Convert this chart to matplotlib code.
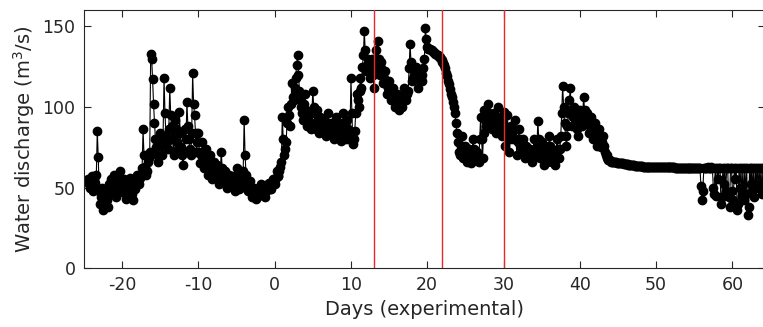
import matplotlib
matplotlib.use('Agg')
import matplotlib.pyplot as plt
import numpy as np

plt.rcParams['axes.unicode_minus'] = False

# water discharge (m3/s), 8 readings per day (every 3 h), row = one day, starting at day -24.5
discharge = [
    55, 52, 50, 54, 57, 51, 48, 53,          # -24.5
    53, 58, 85, 69, 48, 40, 44, 50,          # -23.5
    36, 41, 47, 44, 42, 38, 52, 48,          # -22.5
    55, 50, 46, 53, 58, 52, 44, 49,          # -21.5
    52, 56, 60, 54, 47, 51, 55, 49,          # -20.5
    43, 47, 50, 54, 56, 51, 46, 42,          # -19.5
    54, 50, 49, 53, 58, 55, 52, 56,          # -18.5
    58, 62, 86, 70, 63, 58, 60, 66,          # -17.5
    68, 72, 133, 130, 117, 102, 90, 80,      # -16.5
    75, 70, 66, 78, 84, 76, 70, 82,          # -15.5
    118, 96, 82, 78, 74, 86, 112, 95,        # -14.5
    88, 80, 70, 84, 92, 86, 78, 74,          # -13.5
    97, 84, 75, 70, 64, 72, 86, 80,          # -12.5
    103, 88, 80, 74, 70, 84, 121, 102,       # -11.5
    95, 84, 72, 78, 84, 72, 65, 70,          # -10.5
    78, 70, 62, 68, 74, 64, 58, 66,          # -9.5
    70, 62, 55, 60, 66, 62, 60, 56,          # -8.5
    64, 58, 52, 60, 72, 62, 56, 54,          # -7.5
    60, 55, 50, 54, 58, 52, 53, 57,          # -6.5
    55, 50, 48, 56, 62, 58, 52, 49,          # -5.5
    50, 54, 56, 60, 92, 70, 58, 52,          # -4.5
    48, 52, 54, 50, 44, 47, 50, 46,          # -3.5
    43, 46, 49, 45, 46, 50, 52, 48,          # -2.5
    47, 45, 44, 48, 50, 52, 53, 49,          # -1.5
    49, 52, 55, 53, 52, 56, 60, 57,          # -0.5
    57, 60, 63, 66, 94, 80, 70, 74,          # 0.5
    78, 90, 100, 95, 88, 102, 115, 106,      # 1.5
    104, 112, 118, 126, 132, 120, 110, 104,  # 2.5
    100, 96, 92, 102, 108, 98, 88, 94,       # 3.5
    96, 90, 86, 96, 110, 100, 90, 86,        # 4.5
    98, 92, 84, 88, 94, 90, 88, 85,          # 5.5
    92, 88, 82, 90, 96, 90, 86, 84,          # 6.5
    90, 84, 80, 88, 94, 90, 85, 82,          # 7.5
    88, 82, 79, 90, 96, 88, 84, 80,          # 8.5
    92, 86, 80, 84, 118, 96, 77, 80,         # 9.5
    85, 96, 108, 104, 100, 110, 118, 112,    # 10.5
    125, 132, 147, 135, 122, 126, 130, 124,  # 11.5
    118, 124, 130, 120, 112, 122, 135, 128,  # 12.5
    141, 130, 120, 124, 128, 122, 115, 118,  # 13.5
    122, 114, 108, 112, 116, 110, 104, 108,  # 14.5
    112, 106, 100, 104, 108, 102, 98, 104,   # 15.5
    106, 102, 100, 106, 112, 108, 104, 108,  # 16.5
    110, 124, 139, 128, 116, 118, 120, 122,  # 17.5
    125, 118, 112, 118, 122, 120, 116, 120,  # 18.5
    124, 130, 149, 142, 137, 136, 136, 136,  # 19.5
    135, 135, 134, 134, 133, 133, 132, 132,  # 20.5
    131, 131, 130, 129, 128, 127, 126, 124,  # 21.5
    121, 119, 116, 114, 111, 108, 106, 103,  # 22.5
    100, 96, 90, 84, 78, 72, 70, 76,         # 23.5
    82, 74, 68, 72, 76, 70, 66, 70,          # 24.5
    74, 70, 65, 72, 80, 74, 67, 70,          # 25.5
    72, 68, 66, 80, 94, 80, 68, 84,          # 26.5
    98, 92, 88, 96, 102, 96, 92, 88,         # 27.5
    86, 92, 96, 90, 84, 92, 100, 94,         # 28.5
    90, 86, 82, 90, 97, 88, 76, 84,          # 29.5
    95, 84, 72, 80, 88, 84, 80, 86,          # 30.5
    92, 80, 70, 78, 86, 80, 75, 78,          # 31.5
    80, 74, 68, 72, 76, 74, 72, 70,          # 32.5
    74, 70, 66, 72, 80, 74, 70, 76,          # 33.5
    91, 80, 68, 72, 78, 70, 64, 70,          # 34.5
    76, 70, 66, 74, 82, 76, 70, 66,          # 35.5
    72, 68, 64, 72, 80, 74, 68, 74,          # 36.5
    82, 96, 113, 100, 90, 82, 76, 88,        # 37.5
    96, 104, 112, 98, 88, 94, 100, 96,       # 38.5
    92, 86, 82, 90, 98, 94, 88, 96,          # 39.5
    106, 98, 90, 92, 96, 90, 84, 88,         # 40.5
    94, 86, 80, 84, 90, 82, 76, 82,          # 41.5
    86, 80, 75, 78, 82, 76, 72, 70,          # 42.5
    70, 68, 67, 67, 67, 66, 66, 66,          # 43.5
    66, 66, 66, 65.5, 65.5, 65, 65, 65,      # 44.5
    65, 65, 64.8, 64.8, 64.5, 64.5, 64.4, 64.2,  # 45.5
    64, 64, 64, 64, 63.8, 63.8, 63.6, 63.5,  # 46.5
    63.5, 63.5, 63.4, 63.4, 63.2, 63.2, 63, 63,  # 47.5
    63, 63, 63, 63, 63, 63, 63, 63,          # 48.5
    62.8, 62.8, 62.8, 62.8, 62.8, 62.8, 62.8, 62.8,  # 49.5
    62.6, 62.6, 62.6, 62.6, 62.6, 62.6, 62.6, 62.6,  # 50.5
    62.5, 62.5, 62.5, 62.5, 62.5, 62.5, 62.5, 62.5,  # 51.5
    62.4, 62.4, 62.4, 62.4, 62.4, 62.4, 62.4, 62.4,  # 52.5
    62.3, 62.3, 62.3, 62.3, 62.3, 62.3, 62.3, 62.3,  # 53.5
    62.2, 62.2, 62.2, 62.2, 62.2, 62.2, 62.2, 62.2,  # 54.5
    62, 62, 62, 51, 42, 48, 62, 62,          # 55.5
    62, 62, 63, 62, 62, 62, 63, 62,          # 56.5
    50, 46, 62, 45, 62, 55, 62, 62,          # 57.5
    40, 44, 62, 52, 62, 48, 62, 62,          # 58.5
    44, 38, 62, 62, 48, 42, 62, 55,          # 59.5
    62, 36, 40, 62, 50, 62, 45, 62,          # 60.5
    42, 62, 46, 62, 33, 38, 62, 52,          # 61.5
    62, 48, 62, 44, 62, 52, 62, 50,          # 62.5
    62, 50, 62, 46, 62, 52, 62, 48,          # 63.5
]
days = -24.5 + 0.125 * np.arange(len(discharge))

event_days = [13, 22, 30]

x_ticks = [-20, -10, 0, 10, 20, 30, 40, 50, 60]
y_ticks = [0, 50, 100, 150]

axcol = '#262626'

fig = plt.figure(figsize=(7.63, 3.27), dpi=100)
ax = fig.add_axes([0.110, 0.180, 0.893, 0.789])

ax.plot(days, discharge, '-o', color='black', lw=0.8, ms=6, zorder=2)
for d in event_days:
    ax.axvline(d, color='#e8282a', lw=1.0, zorder=3)

ax.set_xlim(-25, 64.31)
ax.set_ylim(0, 160)
ax.set_xticks(x_ticks)
ax.set_yticks(y_ticks)
ax.tick_params(direction='in', top=True, right=True, length=5, width=0.8,
               colors=axcol, labelsize=12.5, pad=6)
for s in ax.spines.values():
    s.set_color(axcol)
    s.set_linewidth(0.8)

ax.set_xlabel('Days (experimental)', fontsize=14, color=axcol)
ax.set_ylabel('Water discharge (m$^3$/s)', fontsize=14, color=axcol)

plt.savefig('out.png', dpi=100)
plt.close()
